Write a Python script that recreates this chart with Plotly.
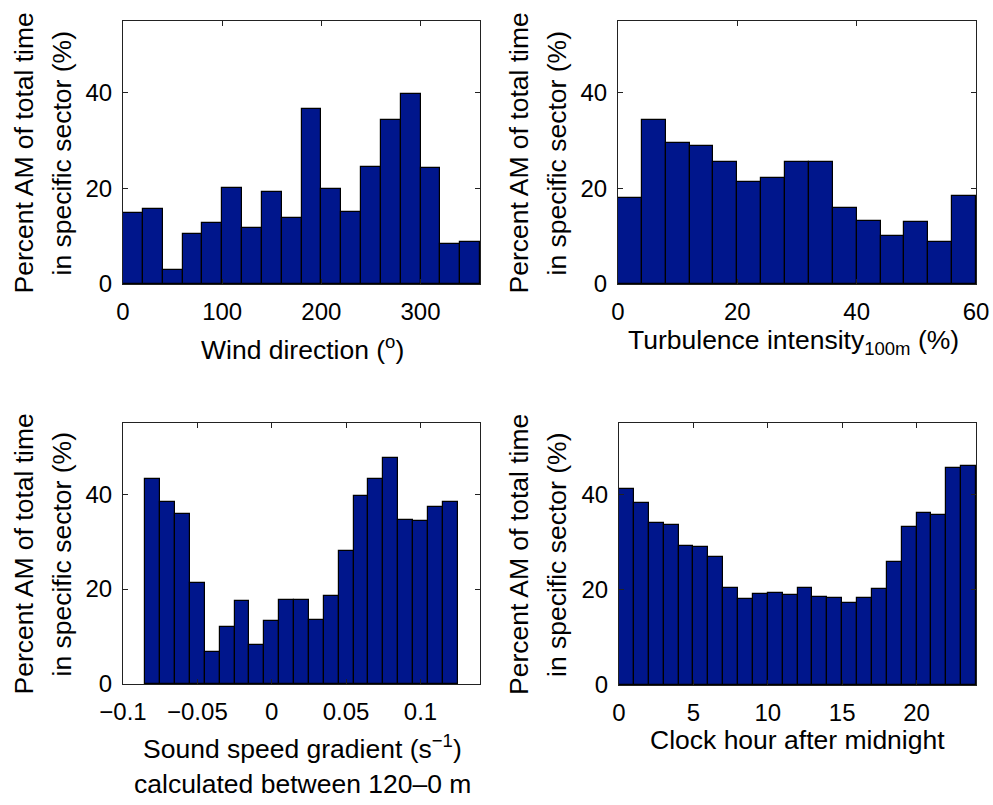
import plotly.graph_objects as go
from plotly.subplots import make_subplots

# Percent of time with amplitude modulation, per bin of each quantity
wind_dir_centers = [10, 30, 50, 70, 90, 110, 130, 150, 170, 190, 210, 230, 250, 270, 290, 310, 330, 350]
wind_dir_pct = [14.9, 15.7, 2.9, 10.4, 12.7, 20.1, 11.8, 19.2, 13.7, 36.7, 19.8, 15.1, 24.5, 34.2, 39.7, 24.2, 8.3, 8.8]

turb_centers = [2, 6, 10, 14, 18, 22, 26, 30, 34, 38, 42, 46, 50, 54, 58]
turb_pct = [18.0, 34.2, 29.4, 28.9, 25.6, 21.4, 22.2, 25.5, 25.5, 15.8, 13.2, 10.1, 12.9, 8.7, 18.3]

ssg_centers = [-0.08, -0.07, -0.06, -0.05, -0.04, -0.03, -0.02, -0.01, 0.0, 0.01, 0.02,
               0.03, 0.04, 0.05, 0.06, 0.07, 0.08, 0.09, 0.10, 0.11, 0.12]
ssg_pct = [43.3, 38.3, 35.8, 21.2, 6.7, 12.1, 17.5, 8.3, 13.3, 17.7, 17.7,
           13.5, 18.6, 28.0, 39.6, 43.1, 47.6, 34.5, 34.4, 37.2, 38.3]

hour_centers = [0.5, 1.5, 2.5, 3.5, 4.5, 5.5, 6.5, 7.5, 8.5, 9.5, 10.5, 11.5,
                12.5, 13.5, 14.5, 15.5, 16.5, 17.5, 18.5, 19.5, 20.5, 21.5, 22.5, 23.5]
hour_pct = [41.1, 38.3, 34.0, 33.6, 29.2, 29.0, 26.8, 20.3, 18.0, 19.2, 19.4, 18.8,
            20.4, 18.5, 18.3, 17.2, 18.2, 20.1, 25.8, 33.1, 36.1, 35.6, 45.6, 46.0]

y_ticks = [0, 20, 40]
wind_ticks = [0, 100, 200, 300]
turb_ticks = [0, 20, 40, 60]
ssg_ticks = [-0.1, -0.05, 0, 0.05, 0.1]
ssg_ticktext = ["\u22120.1", "\u22120.05", "0", "0.05", "0.1"]
hour_ticks = [0, 5, 10, 15, 20]

W, H = 993, 805
FONT = "Liberation Sans, Arial, Helvetica, sans-serif"
BAR = "#00168c"


def px_x(x):
    return x / W


def px_y(y):
    return 1 - y / H


fig = make_subplots(rows=2, cols=2)

panels = [
    (1, 1, wind_dir_centers, wind_dir_pct, 20, [0, 360], wind_ticks, None),
    (1, 2, turb_centers, turb_pct, 4, [0, 60], turb_ticks, None),
    (2, 1, ssg_centers, ssg_pct, 0.01, [-0.1, 0.14], ssg_ticks, ssg_ticktext),
    (2, 2, hour_centers, hour_pct, 1, [0, 24], hour_ticks, None),
]

# axes boxes in pixels: (left, right, top, bottom)
boxes = {
    (1, 1): (123, 480, 21, 284),
    (1, 2): (618, 976, 21, 284),
    (2, 1): (123, 480, 423, 684),
    (2, 2): (619, 976, 423, 685),
}

axis_common = dict(
    showline=True, linecolor="#222222", linewidth=1, mirror="ticks",
    ticks="inside", ticklen=5, tickwidth=1, tickcolor="#222222",
    showgrid=False, zeroline=False, automargin=False,
    tickfont=dict(family=FONT, size=24, color="black"),
)

for r, c, xs, ys, w, xr, xt, xtt in panels:
    fig.add_trace(
        go.Bar(x=xs, y=ys, width=[w] * len(xs),
               marker=dict(color=BAR, line=dict(color="black", width=1.2)),
               showlegend=False),
        row=r, col=c,
    )
    left, right, top, bottom = boxes[(r, c)]
    fig.update_xaxes(range=xr, tickvals=xt, ticktext=xtt if xtt else [str(v) for v in xt],
                     domain=[px_x(left), px_x(right)], ticklabelstandoff=6,
                     row=r, col=c, **axis_common)
    fig.update_yaxes(range=[0, 55], tickvals=y_ticks,
                     domain=[px_y(bottom), px_y(top)], ticklabelstandoff=5,
                     row=r, col=c, **axis_common)

annotations = []


def label(text, x, y, angle=0):
    annotations.append(dict(
        text=text, x=px_x(x), y=px_y(y), xref="paper", yref="paper",
        showarrow=False, textangle=angle, xanchor="center", yanchor="middle",
        font=dict(family=FONT, size=26.5, color="black"),
    ))


# y-axis titles (two lines each)
for (r, c), (left, right, top, bottom) in boxes.items():
    cy = (top + bottom) / 2
    label("Percent AM of total time", left - 100, cy + 1, -90)
    label("in specific sector (%)", left - 62, cy + 1, -90)

# x-axis titles
label("Wind direction (<sup>o</sup>)", 302, 348)
label("Turbulence intensity<sub>100m</sub> (%)", 793, 342)
label("Sound speed gradient (s<sup>\u22121</sup>)", 302, 747)
label("calculated between 120\u20130 m", 302, 784)
label("Clock hour after midnight", 797, 740)

fig.update_layout(
    width=W, height=H, autosize=False,
    margin=dict(l=0, r=0, t=0, b=0, pad=0),
    paper_bgcolor="white", plot_bgcolor="white",
    bargap=0,
    annotations=annotations,
    font=dict(family=FONT, color="black"),
)

fig.write_html("out.html")
